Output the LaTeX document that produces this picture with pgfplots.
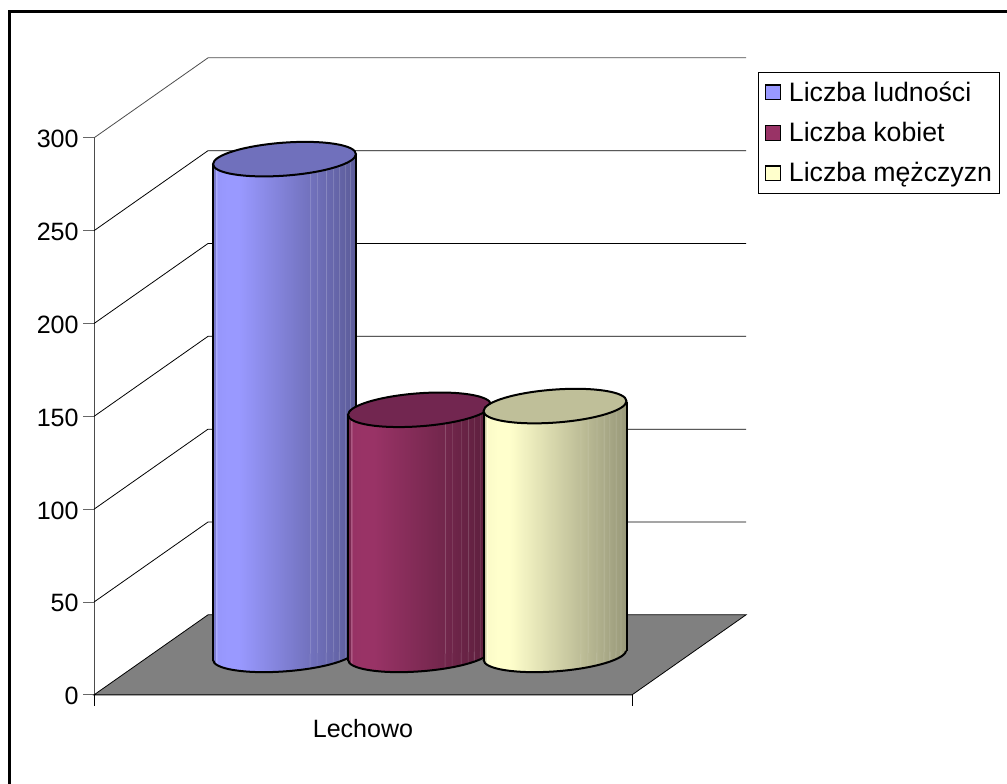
\documentclass[border=0pt]{standalone}
\usepackage{fontspec}
\setmainfont{Liberation Sans}
\usepackage{pgfplots}
\pgfplotsset{compat=1.18}
\definecolor{cA}{HTML}{9999FF}\definecolor{dA}{HTML}{5C5C99}\definecolor{tA}{HTML}{7070BC}
\definecolor{cB}{HTML}{993366}\definecolor{dB}{HTML}{5C1F3D}\definecolor{tB}{HTML}{722650}
\definecolor{cC}{HTML}{FFFFCC}\definecolor{dC}{HTML}{99997A}\definecolor{tC}{HTML}{BFBF99}
\newcommand{\mkcyl}[3]{%
\pgfdeclarehorizontalshading{#1}{100bp}{%
color(0bp)=(#2!80!dB);color(25bp)=(#2!80!black);color(25.8bp)=(#2!80!black);
color(26bp)=(#2!80!white);color(26.3bp)=(#2!80!white);color(26.5bp)=(#2!96!#3);
color(30bp)=(#2);color(34bp)=(#2);
color(58.7bp)=(#2!36!#3);color(58.9bp)=(#2!36!#3!80!white);color(59.1bp)=(#2!36!#3);
color(61.2bp)=(#2!30!#3);color(61.4bp)=(#2!30!#3!80!white);color(61.6bp)=(#2!30!#3);
color(64.3bp)=(#2!23!#3);color(64.5bp)=(#2!23!#3!80!white);color(64.7bp)=(#2!23!#3);
color(66.8bp)=(#2!18!#3);color(67bp)=(#2!18!#3!80!white);color(67.2bp)=(#2!18!#3);
color(68.8bp)=(#2!13!#3);color(69bp)=(#2!13!#3!80!white);color(69.2bp)=(#2!13!#3);
color(71bp)=(#2!8!#3);color(71.2bp)=(#2!8!#3!80!white);color(71.4bp)=(#2!8!#3);
color(72.7bp)=(#2!5!#3);color(72.9bp)=(#2!5!#3!80!white);color(73.1bp)=(#2!5!#3);
color(75bp)=(#3);color(100bp)=(#3)}}
\mkcyl{cylA}{cA}{dA}
\mkcyl{cylB}{cB}{dB}
\mkcyl{cylC}{cC}{dC}
\newcommand{\ellpath}{\pgfpathellipse{\pgfpointorigin}{\pgfpoint{53.6pt}{0pt}}{\pgfpoint{0pt}{12.4pt}}}
\newcommand{\halfpath}{\pgfpathmoveto{\pgfpoint{-53.6pt}{0pt}}\pgfpatharc{180}{360}{53.6pt and 12.4pt}}
\newcommand{\cylbotmark}[1]{\pgftransformyslant{0.07}\halfpath\pgfpathclose\pgfshadepath{#1}{0}\pgfusepath{discard}\halfpath\pgfsetstrokecolor{black}\pgfsetlinewidth{1.5pt}\pgfusepath{stroke}}
\newcommand{\cyltopmark}[1]{\pgftransformyslant{0.07}\ellpath\pgfsetfillcolor{#1}\pgfsetstrokecolor{black}\pgfsetlinewidth{1.5pt}\pgfusepath{fill,stroke}}
\pgfdeclareplotmark{botA}{\cylbotmark{cylA}}
\pgfdeclareplotmark{botB}{\cylbotmark{cylB}}
\pgfdeclareplotmark{botC}{\cylbotmark{cylC}}
\pgfdeclareplotmark{topA}{\cyltopmark{tA}}
\pgfdeclareplotmark{topB}{\cyltopmark{tB}}
\pgfdeclareplotmark{topC}{\cyltopmark{tC}}
\pgfplotsset{
  layers/cyl/.define layer set={axis background,axis grid,axis ticks,axis lines,axis tick labels,pre main,main,cylAl,cylAt,cylBl,cylBt,cylCl,cylCt,axis descriptions,axis foreground}{},
  legimg/.style={only marks, mark=square*, mark size=5.5pt,
    legend image code/.code={\draw[##1] plot coordinates {(7.5pt,0pt)};\path[draw=none] (0pt,0pt) -- (18pt,0pt);}},
}
\begin{document}
\begin{tikzpicture}
\begin{axis}[
  set layers=cyl,
  x=0.75pt, y=1.3925pt,
  xmin=94, xmax=632, ymin=0, ymax=300,
  clip=false,
  axis x line=bottom, axis y line=left,
  axis line style={-, line width=0.6pt},
  x axis line style={black}, y axis line style={black!70},
  xtick={94,632}, xticklabels={,},
  extra x ticks={363}, extra x tick labels={Lechowo},
  extra x tick style={major tick length=0pt, xticklabel style={yshift=-15pt}},
  ytick={0,50,100,150,200,250,300},
  tick align=outside, major tick length=8pt,
  tick style={line width=0.7pt, black!60},
  xtick style={black},
  tick label style={font=\fontsize{18.8}{22}\selectfont},
  /pgf/number format/assume math mode=true,
  yticklabel style={yshift=-1pt},
  legend style={at={(1.2333,1.1185)}, anchor=north west, draw=black, line width=0.6pt,
    font=\fontsize{20}{24}\selectfont, inner xsep=3.75pt, inner ysep=5.5pt, row sep=11.25pt,
    nodes={inner sep=1.5pt}},
  legend cell align=left,
]
\coordinate (ll) at (axis cs:0,-47.93);
\coordinate (ur) at (axis cs:1007,374.26);
% frame
\addplot[forget plot, black, line width=2pt] coordinates {(9.5,-47.93)(9.5,368.07)(1007,368.07)};
% floor
\addplot[forget plot, fill=black!50, draw=black, line width=0.6pt] coordinates {(94,0)(208,43.1)(746,43.1)(632,0)} -- cycle;
% walls
\addplot[forget plot, black, line width=0.6pt] coordinates {(94,50)(208,93.1)(746,93.1)};
\addplot[forget plot, black, line width=0.6pt] coordinates {(94,100)(208,143.1)(746,143.1)};
\addplot[forget plot, black, line width=0.6pt] coordinates {(94,150)(208,193.1)(746,193.1)};
\addplot[forget plot, black, line width=0.6pt] coordinates {(94,200)(208,243.1)(746,243.1)};
\addplot[forget plot, black, line width=0.6pt] coordinates {(94,250)(208,293.1)(746,293.1)};
\addplot[forget plot, black!70, line width=0.6pt] coordinates {(94,300)(208,343.1)(746,343.1)};
% Liczba ludnosci
\addplot[forget plot, on layer=cylAl, mark layer=cylAl, only marks, mark=botA, yshift=30pt] coordinates {(284.5,0)};
\addplot[forget plot, on layer=cylAl, ybar, bar width=107.25pt, bar shift=0pt, shading=cylA, draw=none, yshift=15.07pt, yslant=0.07] coordinates {(284.5,267)};
\addplot[forget plot, on layer=cylAl, ycomb, black, line width=1.5pt, mark=none, yshift=15.07pt, yslant=0.07] coordinates {(213,267)(356,267)};
\addplot[forget plot, on layer=cylAt, mark layer=cylAt, only marks, mark=topA, yshift=30pt] coordinates {(284.5,267)};
% Liczba kobiet
\addplot[forget plot, on layer=cylBl, mark layer=cylBl, only marks, mark=botB, yshift=30pt] coordinates {(419.5,0)};
\addplot[forget plot, on layer=cylBl, ybar, bar width=107.25pt, bar shift=0pt, shading=cylB, draw=none, yshift=7.98pt, yslant=0.07] coordinates {(419.5,132)};
\addplot[forget plot, on layer=cylBl, ycomb, black, line width=1.5pt, mark=none, yshift=7.98pt, yslant=0.07] coordinates {(348,132)(491,132)};
\addplot[forget plot, on layer=cylBt, mark layer=cylBt, only marks, mark=topB, yshift=30pt] coordinates {(419.5,132)};
% Liczba mezczyzn
\addplot[forget plot, on layer=cylCl, mark layer=cylCl, only marks, mark=botC, yshift=30pt] coordinates {(555,0)};
\addplot[forget plot, on layer=cylCl, ybar, bar width=107.25pt, bar shift=0pt, shading=cylC, draw=none, yshift=0.87pt, yslant=0.07] coordinates {(555,134)};
\addplot[forget plot, on layer=cylCl, ycomb, black, line width=1.5pt, mark=none, yshift=0.87pt, yslant=0.07] coordinates {(483.5,134)(626.5,134)};
\addplot[forget plot, on layer=cylCt, mark layer=cylCt, only marks, mark=topC, yshift=30pt] coordinates {(555,134)};
% legend
\addlegendimage{legimg, mark options={fill=cA, draw=black, line width=1pt}}
\addlegendentry{Liczba ludności}
\addlegendimage{legimg, mark options={fill=cB, draw=black, line width=1pt}}
\addlegendentry{Liczba kobiet}
\addlegendimage{legimg, mark options={fill=cC, draw=black, line width=1pt}}
\addlegendentry{Liczba mężczyzn}
\end{axis}
\pgfresetboundingbox
\path[use as bounding box] (ll) rectangle (ur);
\end{tikzpicture}
\end{document}
